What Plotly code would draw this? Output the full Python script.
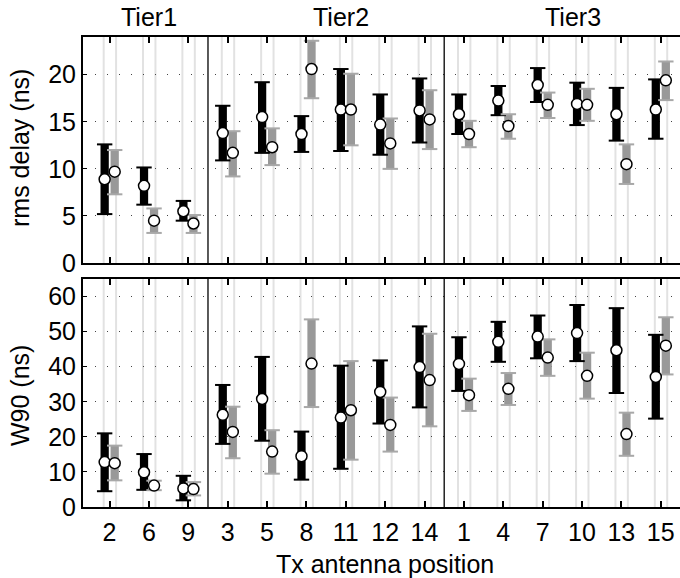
import plotly.graph_objects as go

positions = list(range(1, 16))
labels = ['2', '6', '9', '3', '5', '8', '11', '12', '14', '1', '4', '7', '10', '13', '15']
tier_names = ['Tier1', 'Tier2', 'Tier3']
tier_centers = [2.0, 6.88, 12.77]
tier_bounds = [3.5, 9.5]

rms_black_med = [8.9, 8.2, 5.5, 13.8, 15.5, 13.7, 16.3, 14.7, 16.2, 15.8, 17.25, 18.9, 16.9, 15.8, 16.3]
rms_black_lo = [5.2, 6.2, 4.5, 10.9, 11.7, 11.8, 11.9, 11.5, 12.8, 13.7, 15.7, 17.1, 14.65, 13.0, 13.2]
rms_black_hi = [12.6, 10.15, 6.6, 16.7, 19.2, 15.6, 20.6, 17.9, 19.6, 17.9, 18.8, 20.7, 19.15, 18.6, 19.5]
rms_gray_med = [9.7, 4.5, 4.2, 11.7, 12.3, 20.6, 16.3, 12.7, 15.25, 13.7, 14.55, 16.8, 16.8, 10.5, 19.4]
rms_gray_lo = [7.3, 3.2, 3.2, 9.2, 10.4, 17.5, 12.5, 10.0, 12.1, 12.3, 13.2, 15.4, 15.1, 8.4, 17.3]
rms_gray_hi = [12.0, 5.8, 5.1, 14.0, 14.3, 23.6, 20.1, 15.35, 18.35, 15.1, 15.8, 18.1, 18.5, 12.6, 21.4]

w90_black_med = [12.8, 9.9, 5.3, 26.3, 30.8, 14.5, 25.5, 32.8, 39.9, 40.8, 47.1, 48.6, 49.6, 44.7, 37.1]
w90_black_lo = [4.5, 4.9, 1.9, 18.0, 18.9, 7.8, 10.9, 23.8, 28.4, 33.1, 41.4, 42.4, 41.6, 32.5, 25.2]
w90_black_hi = [21.0, 15.1, 8.9, 34.8, 42.8, 21.5, 40.3, 41.8, 51.5, 48.4, 52.8, 54.6, 57.6, 56.7, 49.1]
w90_gray_med = [12.5, 6.1, 5.1, 21.4, 15.8, 40.9, 27.6, 23.4, 36.2, 31.9, 33.7, 42.6, 37.4, 20.8, 46.0]
w90_gray_lo = [7.6, 4.8, 3.3, 13.9, 9.5, 28.5, 13.5, 15.8, 23.0, 27.4, 29.1, 37.4, 30.9, 14.6, 37.8]
w90_gray_hi = [17.5, 7.5, 7.1, 28.6, 21.9, 53.5, 41.6, 31.2, 49.4, 36.6, 38.2, 47.8, 44.0, 26.9, 54.1]

BLACK_OFF = -0.125
GRAY_OFF = 0.13
LINE_OFFS = [-0.15, 0.165]
FONT = "Liberation Sans, Arial, sans-serif"
FS = 25

fig = go.Figure()


def add_series(xa, ya, off, lo, hi, color, capcolor):
    xs = [p + off for p in positions]
    fig.add_trace(go.Bar(x=xs, y=[h - l for h, l in zip(hi, lo)], base=lo, width=0.21,
                         marker=dict(color=color, line=dict(width=0)),
                         xaxis=xa, yaxis=ya, showlegend=False, hoverinfo='skip'))
    fig.add_trace(go.Scatter(x=xs + xs, y=list(lo) + list(hi), mode='markers',
                             marker=dict(symbol='line-ew', size=11, line=dict(color=capcolor, width=2)),
                             xaxis=xa, yaxis=ya, showlegend=False, hoverinfo='skip'))


def add_points(xa, ya, off, med):
    xs = [p + off for p in positions]
    fig.add_trace(go.Scatter(x=xs, y=med, mode='markers',
                             marker=dict(symbol='circle', size=11, color='white',
                                         line=dict(color='black', width=1.5)),
                             xaxis=xa, yaxis=ya, showlegend=False, hoverinfo='skip'))


for xa, ya, data in [('x', 'y', (rms_black_lo, rms_black_hi, rms_black_med, rms_gray_lo, rms_gray_hi, rms_gray_med)),
                     ('x2', 'y2', (w90_black_lo, w90_black_hi, w90_black_med, w90_gray_lo, w90_gray_hi, w90_gray_med))]:
    blo, bhi, bmed, glo, ghi, gmed = data
    add_series(xa, ya, BLACK_OFF, blo, bhi, 'black', 'black')
    add_series(xa, ya, GRAY_OFF, glo, ghi, '#999999', '#a8a8a8')
    add_points(xa, ya, BLACK_OFF, bmed)
    add_points(xa, ya, GRAY_OFF, gmed)

shapes = []
for xr, yr in [('x', 'y domain'), ('x2', 'y2 domain')]:
    for p in positions:
        for o in LINE_OFFS:
            shapes.append(dict(type='line', xref=xr, yref=yr, x0=p + o, x1=p + o, y0=0, y1=1,
                               line=dict(color='#e2e2e2', width=2), layer='below'))
    for b in tier_bounds:
        shapes.append(dict(type='line', xref=xr, yref=yr, x0=b, x1=b, y0=0, y1=1,
                           line=dict(color='black', width=1.3), layer='above'))

xcommon = dict(range=[0.325, 15.49], tickvals=positions, ticktext=labels, ticks='inside',
               ticklen=6, tickwidth=2, tickcolor='black', showline=True, linecolor='black',
               linewidth=2, mirror='ticks', showgrid=False, zeroline=False,
               tickfont=dict(size=FS, color='black', family=FONT), domain=[0, 1])
ycommon = dict(ticks='inside', ticklen=4, tickwidth=1, tickcolor='black', showline=True,
               linecolor='black', linewidth=2, showgrid=True, gridcolor='#444444',
               griddash='1px,11px', gridwidth=1, zeroline=False,
               tickfont=dict(size=FS, color='black', family=FONT))

fig.update_layout(
    width=680, height=578,
    margin=dict(l=83, r=0, t=37, b=71),
    paper_bgcolor='white', plot_bgcolor='white',
    barmode='overlay',
    font=dict(family=FONT, color='black'),
    xaxis=dict(**xcommon, anchor='y', showticklabels=False),
    xaxis2=dict(**xcommon, anchor='y2', matches='x', ticklabelstandoff=2),
    yaxis=dict(**ycommon, domain=[0.519, 1.0], range=[0, 24], tickvals=[0, 5, 10, 15, 20], anchor='x'),
    yaxis2=dict(**ycommon, domain=[0.0, 0.485], range=[0, 65], tickvals=[0, 10, 20, 30, 40, 50, 60], anchor='x2'),
    shapes=shapes,
)

annotations = []
for name, c in zip(tier_names, tier_centers):
    annotations.append(dict(text=name, x=c, xref='x', y=(507 - 17) / 470, yref='paper',
                            showarrow=False, font=dict(size=FS, color='black', family=FONT),
                            xanchor='center', yanchor='middle'))
annotations.append(dict(text='rms delay (ns)', x=(20 - 83) / 597, xref='paper', y=(507 - 148) / 470,
                        yref='paper', textangle=-90, showarrow=False, xanchor='center', yanchor='middle',
                        font=dict(size=FS, color='black', family=FONT)))
annotations.append(dict(text='W90 (ns)', x=(20 - 83) / 597, xref='paper', y=(507 - 396) / 470,
                        yref='paper', textangle=-90, showarrow=False, xanchor='center', yanchor='middle',
                        font=dict(size=FS, color='black', family=FONT)))
annotations.append(dict(text='Tx antenna position', x=(385 - 83) / 597, xref='paper', y=(507 - 564) / 470,
                        yref='paper', showarrow=False, xanchor='center', yanchor='middle',
                        font=dict(size=FS, color='black', family=FONT)))
fig.update_layout(annotations=annotations)

fig.write_html("out.html")
